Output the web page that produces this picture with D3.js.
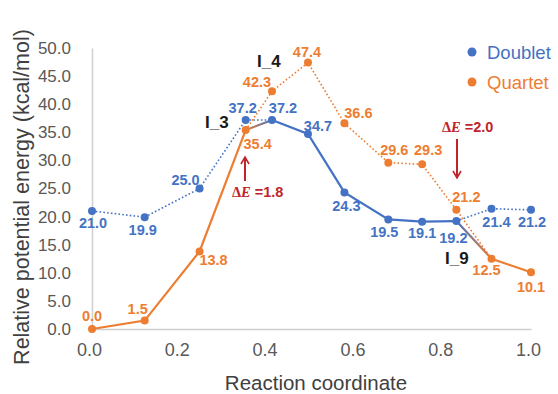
<!DOCTYPE html>
<html>
<head>
<meta charset="utf-8">
<script src="https://cdn.jsdelivr.net/npm/d3@7"></script>
<style>
  body { margin: 0; background: #fff; }
  text { font-family: "Liberation Sans", Arial, sans-serif; }
</style>
</head>
<body>
<div id="chart"></div>
<script>
// reaction coordinate of each state
var coords = [0, 0.12, 0.245, 0.35, 0.41, 0.492, 0.575, 0.675, 0.752, 0.83, 0.91, 1.0];
var doublet = [21.0, 19.9, 25.0, 37.2, 37.2, 34.7, 24.3, 19.5, 19.1, 19.2, 21.4, 21.2];
var quartet = [0.0, 1.5, 13.8, 35.4, 42.3, 47.4, 36.6, 29.6, 29.3, 21.2, 12.5, 10.1];
var xTicks = [0, 0.2, 0.4, 0.6, 0.8, 1.0];
var yTicks = [0, 5, 10, 15, 20, 25, 30, 35, 40, 45, 50];
var seriesNames = ["Doublet", "Quartet"];

// label nudges (dx, dy from the point)
var dLabelPos = [[1,17],[-2,18],[-14,-4],[-3,-7],[11,-7],[10,-3],[2,19],[-4,18],[0,16],[-3,22],[5,18],[1,17]];
var qLabelPos = [[0,-8],[-7,-7],[14,14],[12,19],[-15,-4],[-1,-6],[14,-5],[6,-8],[6,-9],[10,-8],[-5,16],[0,20]];

var svgWidth = 558, svgHeight = 394;
var blue = "#4472c4", orange = "#ed7d31", red = "#c0242b";

var svg = d3.select("#chart").append("svg")
  .attr("width", svgWidth)
  .attr("height", svgHeight);

var x = d3.scaleLinear().domain([0, 1]).range([92, 531]);
var y = d3.scaleLinear().domain([0, 50]).range([329, 48]);

// axes
var xAxis = svg.append("g")
  .attr("transform", "translate(0,329)")
  .call(d3.axisBottom(x).tickValues(xTicks).tickFormat(d3.format(".1f")).tickSize(0).tickPadding(14));
xAxis.select(".domain").attr("stroke", "#d0d0d0").attr("stroke-width", 1.5);
xAxis.selectAll("text").attr("font-size", 18).attr("fill", "#595959").attr("dx", -3)
  .style("font-family", "Liberation Sans, Arial, sans-serif");

var yAxis = svg.append("g")
  .attr("transform", "translate(92,0)")
  .call(d3.axisLeft(y).tickValues(yTicks).tickFormat(d3.format(".1f")).tickSize(0).tickPadding(21));
yAxis.select(".domain").attr("stroke", "#d0d0d0").attr("stroke-width", 1.5);
yAxis.selectAll("text").attr("font-size", 17).attr("fill", "#595959")
  .style("font-family", "Liberation Sans, Arial, sans-serif");

// axis titles
svg.append("text")
  .attr("x", 316).attr("y", 390)
  .attr("text-anchor", "middle")
  .attr("font-size", 20.5).attr("fill", "#404040")
  .text("Reaction coordinate");

svg.append("text")
  .attr("transform", "translate(29,197) rotate(-90)")
  .attr("text-anchor", "middle")
  .attr("font-size", 21.5).attr("fill", "#404040")
  .text("Relative potential energy (kcal/mol)");

// gradients for spin-crossing segments
var defs = svg.append("defs");
function grad(id, a, b, i, j) {
  var g = defs.append("linearGradient").attr("id", id)
    .attr("gradientUnits", "userSpaceOnUse")
    .attr("x1", x(coords[i])).attr("y1", a === "q" ? y(quartet[i]) : y(doublet[i]))
    .attr("x2", x(coords[j])).attr("y2", b === "q" ? y(quartet[j]) : y(doublet[j]));
  g.append("stop").attr("offset", "0%").attr("stop-color", a === "q" ? orange : blue);
  g.append("stop").attr("offset", "100%").attr("stop-color", b === "q" ? orange : blue);
}
grad("cross1", "q", "d", 3, 4);
grad("cross2", "d", "q", 9, 10);

var line = d3.line().x(d => x(d[0])).y(d => y(d[1]));
function pts(vals, from, to) {
  var out = [];
  for (var i = from; i <= to; i++) out.push([coords[i], vals[i]]);
  return out;
}
function drawPath(data, color, dotted) {
  svg.append("path")
    .datum(data)
    .attr("d", line)
    .attr("fill", "none")
    .attr("stroke", color)
    .attr("stroke-width", dotted ? 1.6 : 2.2)
    .attr("stroke-dasharray", dotted ? "1.6,2.2" : null);
}

// doublet lines
drawPath(pts(doublet, 0, 4), blue, true);
drawPath(pts(doublet, 4, 9), blue, false);
drawPath(pts(doublet, 9, 11), blue, true);
// quartet lines
drawPath(pts(quartet, 0, 3), orange, false);
drawPath(pts(quartet, 3, 10), orange, true);
drawPath(pts(quartet, 10, 11), orange, false);
// crossing segments
drawPath([[coords[3], quartet[3]], [coords[4], doublet[4]]], "url(#cross1)", false);
drawPath([[coords[9], doublet[9]], [coords[10], quartet[10]]], "url(#cross2)", false);

// points and value labels
function drawPoints(vals, color, offs) {
  svg.append("g").selectAll("circle")
    .data(vals)
    .enter()
    .append("circle")
    .attr("cx", (d, i) => x(coords[i]))
    .attr("cy", d => y(d))
    .attr("r", 4)
    .attr("fill", color);

  svg.append("g").selectAll("text")
    .data(vals)
    .enter()
    .append("text")
    .attr("x", (d, i) => x(coords[i]) + offs[i][0])
    .attr("y", (d, i) => y(d) + offs[i][1])
    .attr("text-anchor", "middle")
    .attr("font-size", 14.5)
    .attr("font-weight", "bold")
    .attr("fill", color)
    .text(d => d.toFixed(1));
}
drawPoints(doublet, blue, dLabelPos);
drawPoints(quartet, orange, qLabelPos);

// intermediate names
var names = [["I_3", 205, 128], ["I_4", 257, 67], ["I_9", 445, 264]];
svg.append("g").selectAll("text")
  .data(names)
  .enter()
  .append("text")
  .attr("x", d => d[1])
  .attr("y", d => d[2])
  .attr("font-size", 17)
  .attr("font-weight", "bold")
  .attr("fill", "#1a1a1a")
  .text(d => d[0]);

// delta E annotations
function deltaE(tx, ty, val) {
  var t = svg.append("text").attr("x", tx).attr("y", ty)
    .attr("font-size", 14.5).attr("font-weight", "bold").attr("fill", red);
  t.append("tspan").style("font-family", "Liberation Serif, Times New Roman, serif").text("\u0394");
  t.append("tspan").style("font-family", "Liberation Serif, Times New Roman, serif").attr("font-style", "italic").text("E");
  t.append("tspan").text(" =" + val);
}
deltaE(232, 197, "1.8");
deltaE(442, 132, "2.0");

defs.append("marker").attr("id", "arrow")
  .attr("viewBox", "0 0 10 10").attr("refX", 8).attr("refY", 5)
  .attr("markerWidth", 5).attr("markerHeight", 5).attr("orient", "auto")
  .append("path").attr("d", "M1,1 L8,5 L1,9").attr("fill", "none").attr("stroke", red).attr("stroke-width", 1.6);

svg.append("line").attr("x1", 245).attr("y1", 181).attr("x2", 245).attr("y2", 157)
  .attr("stroke", red).attr("stroke-width", 2).attr("marker-end", "url(#arrow)");
svg.append("line").attr("x1", 457).attr("y1", 139).attr("x2", 457).attr("y2", 178)
  .attr("stroke", red).attr("stroke-width", 2).attr("marker-end", "url(#arrow)");

// legend
var legend = svg.append("g");
seriesNames.forEach(function(name, i) {
  var yy = 52 + i * 30;
  legend.append("circle").attr("cx", 472).attr("cy", yy).attr("r", 4.5)
    .attr("fill", i === 0 ? blue : orange);
  legend.append("text").attr("x", 487).attr("y", yy + 6.5)
    .attr("font-size", 18.5)
    .attr("fill", i === 0 ? blue : orange)
    .text(name);
});
</script>
</body>
</html>
